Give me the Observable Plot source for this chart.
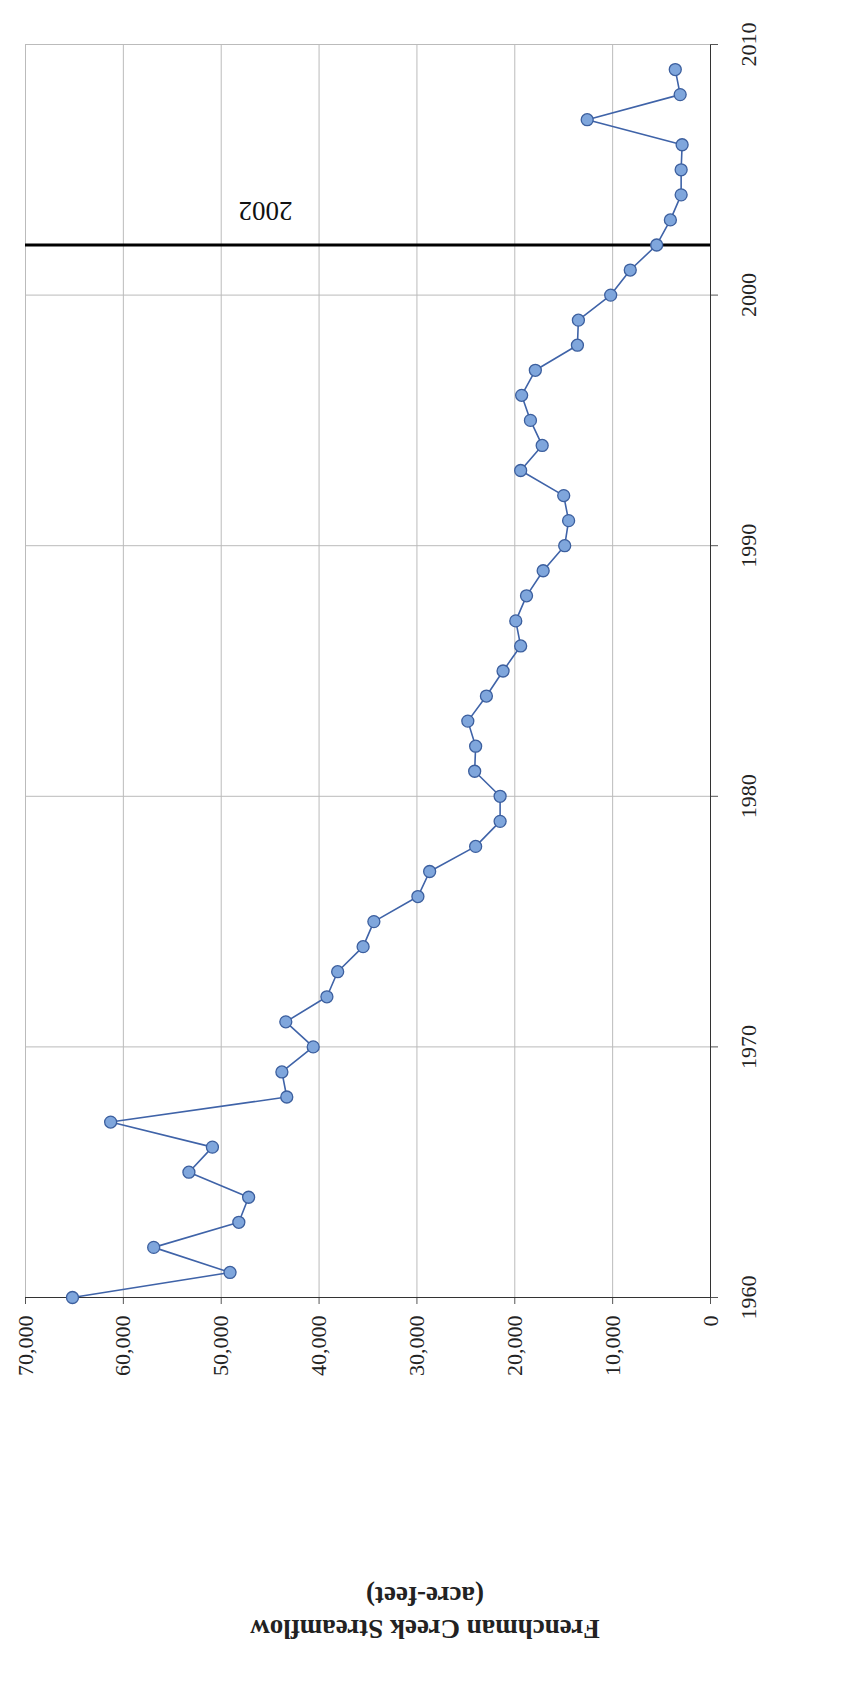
<!DOCTYPE html>
<html><head><meta charset="utf-8">
<script src="https://cdn.jsdelivr.net/npm/d3@7"></script>
<script src="https://cdn.jsdelivr.net/npm/@observablehq/plot@0.6"></script>
<style>
body{margin:0;background:#fff;}
#wrap{position:relative;width:847px;height:1704px;overflow:hidden;}
#rot{position:absolute;left:0;top:0;width:1704px;height:847px;transform-origin:0 0;transform:translate(0,1704px) rotate(-90deg);}
</style></head><body>
<div id="wrap"><div id="rot"></div></div>
<script>
const years = d3.range(1960, 2010);
const flow = [65200,49100,56900,48200,47200,53300,50900,61300,43300,43800,
40600,43400,39200,38100,35500,34400,29900,28700,24000,21500,
21500,24100,24000,24800,22900,21200,19400,19900,18800,17100,
14900,14500,15000,19400,17200,18400,19300,17900,13600,13500,
10200,8200,5500,4100,3000,3000,2900,12600,3100,3600];
const yTicks = [0,10000,20000,30000,40000,50000,60000,70000];
const xTicks = [1960,1970,1980,1990,2000,2010];
const markYear = 2002;
const data = years.map((y,i)=>({year:y, flow:flow[i]}));

const fmt = d3.format(",");
const chart = Plot.plot({
  width:1704, height:847,
  marginLeft:406, marginRight:45, marginTop:25, marginBottom:137,
  style:{fontFamily:"'Liberation Serif', 'DejaVu Serif', serif", fontSize:"22px", color:"#222"},
  x:{domain:[1960,2010], ticks:xTicks, tickFormat:d=>String(d), label:null},
  y:{domain:[0,70000], ticks:yTicks, tickFormat:fmt, label:null},
  marks:[
    Plot.gridX(xTicks,{stroke:"#bbb", strokeOpacity:1}),
    Plot.gridY(yTicks,{stroke:"#bbb", strokeOpacity:1}),
    Plot.axisX(xTicks,{tickSize:8, tickPadding:22, stroke:"#555", fontSize:22, tickFormat:d=>String(d)}),
    Plot.axisY(yTicks,{tickSize:6, tickPadding:12, stroke:"#555", fontSize:22, tickFormat:fmt}),
    Plot.ruleY([0],{stroke:"#333"}),
    Plot.ruleX([1960],{stroke:"#333"}),
    Plot.ruleX([markYear],{stroke:"#000", strokeWidth:3}),
    Plot.text([markYear],{x:d=>d, frameAnchor:"top", dy:240, dx:24, text:d=>String(d), rotate:-90, fontSize:27, fill:"#111"}),
    Plot.line(data,{x:"year", y:"flow", stroke:"#3f63a8", strokeWidth:1.6}),
    Plot.dot(data,{x:"year", y:"flow", r:6, fill:"#7fa6dc", stroke:"#3c5f9e", strokeWidth:1.3})
  ]
});
document.getElementById("rot").appendChild(chart);
const svg = d3.select(chart);
const t = svg.append("text").attr("transform","translate(89,425) rotate(-90)")
  .attr("text-anchor","middle").attr("font-weight","bold").attr("font-size",27)
  .attr("font-family","'Liberation Serif', 'DejaVu Serif', serif").attr("fill","#222");
t.append("tspan").attr("x",0).attr("dy","-0.2em").text("Frenchman Creek Streamflow");
t.append("tspan").attr("x",0).attr("dy","1.25em").text("(acre-feet)");
</script>
</body></html>
